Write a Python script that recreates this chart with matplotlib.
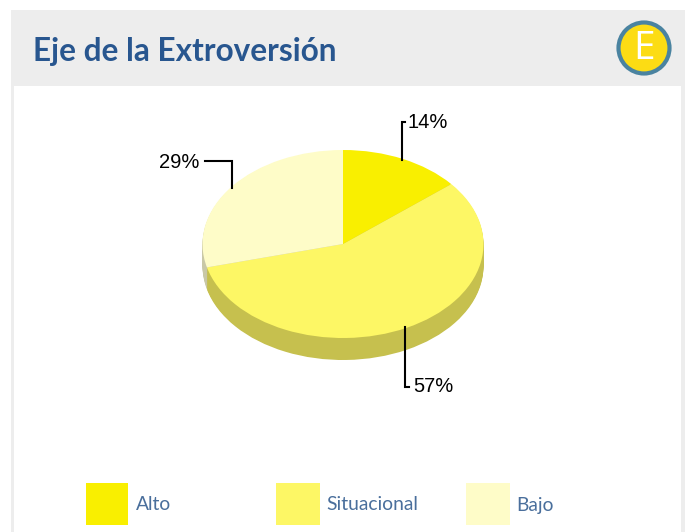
import matplotlib
matplotlib.use('Agg')
import matplotlib.pyplot as plt
from matplotlib.patches import Rectangle, Circle

W, H = 685, 532

categories = ['Alto', 'Situacional', 'Bajo']
values = [14, 57, 29]
labels = ['14%', '57%', '29%']
top_colors = ['#f9ef00', '#fdf765', '#fefcc8']
side_colors = ['#c5bd20', '#c6c04e', '#c9c8a6']

fig = plt.figure(figsize=(W / 100, H / 100), dpi=100)

# page in pixel coordinates
ax = fig.add_axes([0, 0, 1, 1])
ax.set_xlim(0, W)
ax.set_ylim(H, 0)
ax.axis('off')

ax.add_patch(Rectangle((11, 10), W - 11, H - 10, color='#ededed', lw=0))
ax.add_patch(Rectangle((14, 86), 667, H - 86, color='white', lw=0))
ax.text(33, 51, 'Eje de la Extroversión', fontsize=22.7, fontweight='bold',
	family='Lato', color='#28568f', va='center', ha='left')

ax.add_patch(Circle((644, 48), 25.5, fc='#fcdc14', ec='#4a83a0', lw=3))
ax.text(644, 49, 'E', fontsize=28, fontweight='medium', family='Open Sans',
	color='white', va='center', ha='center')

# pie axes, one unit is the x and y radius of the ellipse
cx, cy, rx, ry, depth = 343, 244, 140.5, 94, 22
pie_ax = fig.add_axes([0, 0, 1, 1], zorder=2)
pie_ax.patch.set_alpha(0)
for d in range(depth, 0, -1):
	pie_ax.pie(values, colors=side_colors, startangle=90, counterclock=False,
		center=(0, -d / ry), radius=1)
pie_ax.pie(values, colors=top_colors, startangle=90, counterclock=False)
pie_ax.set_aspect('auto')
pie_ax.set_xlim(-cx / rx, (W - cx) / rx)
pie_ax.set_ylim((cy - H) / ry, cy / ry)
pie_ax.axis('off')

# leader lines on top of the pie
over = fig.add_axes([0, 0, 1, 1], zorder=3)
over.patch.set_alpha(0)
over.set_xlim(0, W)
over.set_ylim(H, 0)
over.axis('off')
line = dict(color='black', lw=1.5, solid_joinstyle='miter')
over.plot([405, 402, 402], [122, 122, 160], **line)
over.plot([405, 405, 409], [327, 387, 387], **line)
over.plot([205, 232, 232], [161, 161, 188], **line)
lab = dict(fontsize=14.5, family='Liberation Sans', color='black', va='center')
over.text(408, 122, labels[0], ha='left', **lab)
over.text(413, 387, labels[1], ha='left', **lab)
over.text(199, 162, labels[2], ha='right', **lab)

# legend
box_x = [86, 276, 466]
box_w = [42, 44, 44]
for i in range(len(categories)):
	ax.add_patch(Rectangle((box_x[i], 483), box_w[i], 42, color=top_colors[i], lw=0))
	ax.text(box_x[i] + 50, 505, categories[i], fontsize=13.9,
		family='Lato', color='#4a6f9c', va='center', ha='left')

fig.savefig('out.png', dpi=100)
